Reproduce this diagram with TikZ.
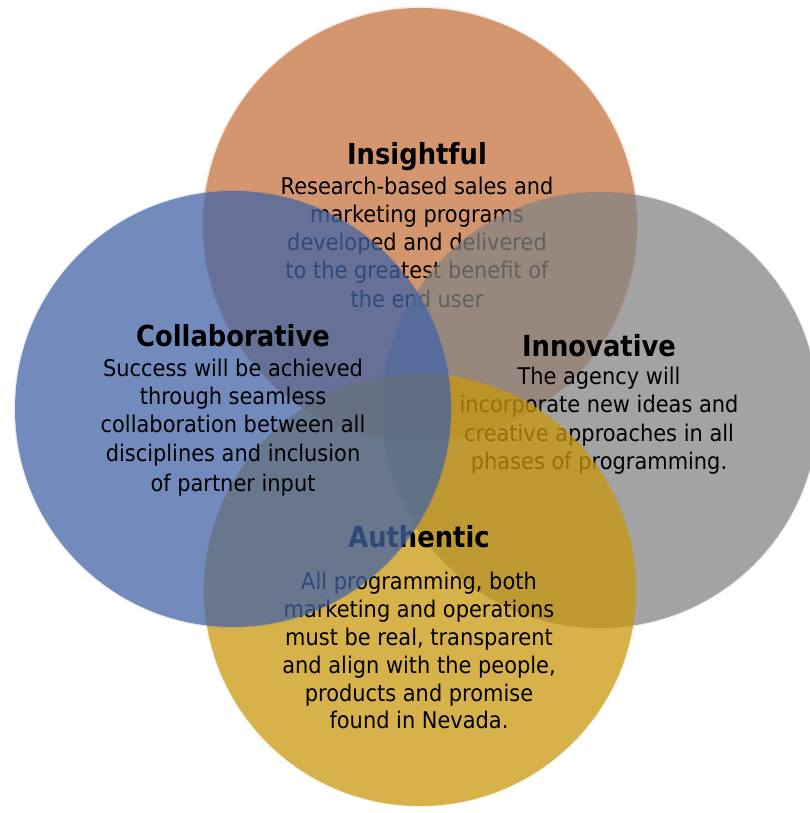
\documentclass[tikz,border=0pt]{standalone}
\usepackage{fontspec}
\setmainfont{DejaVu Sans}[FakeStretch=0.91]
\newfontfamily\titlefont{DejaVu Sans}[FakeStretch=0.89]
\definecolor{cOrange}{RGB}{212,150,110}
\definecolor{cBlue}{RGB}{65,99,165}
\definecolor{cGray}{RGB}{131,131,131}
\definecolor{cYellow}{RGB}{202,152,12}
\tikzset{
  circ/.style={fill=#1, fill opacity=0.7, draw=none},
  glow/.style={fill=#1, fill opacity=0.12, draw=none},
  ttl/.style={anchor=base, inner sep=0pt, font=\titlefont\bfseries\fontsize{29}{30}\selectfont, text=black},
  body/.style={anchor=base, inner sep=0pt, font=\fontsize{23}{26}\selectfont, text=black},
}
\begin{document}
\begin{tikzpicture}[x=1pt,y=1pt]
\fill[white] (0,0) rectangle (809,813);
\useasboundingbox (0,0) rectangle (809,813);
% Orange (bottom layer)
\fill[cOrange, opacity=0.2] (420,588) circle (218.5);
\fill[cOrange] (420,588) circle (217);
\node[ttl] (it) at (417,648) {Insightful};
\node[body] (i1) at (417,618) {Research-based sales and};
\node[body] (i2) at (417,590) {marketing programs};
\node[body] (i3) at (417,562) {developed and delivered};
\node[body] (i4) at (417,534) {to the greatest benefit of};
\node[body] (i5) at (417,505) {the end user};
% Gray
\fill[glow=cGray] (600,403) circle (219.2);
\fill[circ=cGray] (600,403) circle (218);
\node[ttl] (nt) at (599,456) {Innovative};
\node[body] (n1) at (599,428) {The agency will};
\node[body] (n2) at (599,400) {incorporate new ideas and};
\node[body] (n3) at (599,371) {creative approaches in all};
\node[body] (n4) at (599,343) {phases of programming.};
% Yellow
\fill[glow=cYellow] (420,223) circle (217.2);
\fill[circ=cYellow] (420,223) circle (216);
\node[ttl] (at) at (419,265) {Authentic};
\node[body] (a1) at (419,223) {All programming, both};
\node[body] (a2) at (419,195) {marketing and operations};
\node[body] (a3) at (419,167) {must be real, transparent};
\node[body] (a4) at (419,139) {and align with the people,};
\node[body] (a5) at (419,111) {products and promise};
\node[body] (a6) at (419,84) {found in Nevada.};
% Blue (top layer)
\fill[glow=cBlue] (233,404) circle (219.2);
\fill[circ=cBlue] (233,404) circle (218);
\node[ttl] (ct) at (233,466) {Collaborative};
\node[body] (c1) at (233,436) {Success will be achieved};
\node[body] (c2) at (233,408) {through seamless};
\node[body] (c3) at (233,380) {collaboration between all};
\node[body] (c4) at (233,351) {disciplines and inclusion};
\node[body] (c5) at (233,321) {of partner input};
\end{tikzpicture}
\end{document}
